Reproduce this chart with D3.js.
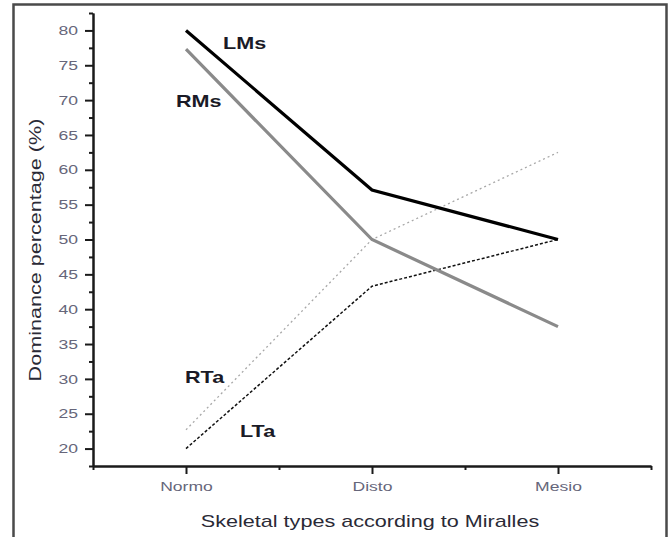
<!DOCTYPE html>
<html>
<head>
<meta charset="utf-8">
<script src="https://cdn.jsdelivr.net/npm/d3@7"></script>
<style>
    body { margin: 0; background: #fff; }
    svg { display: block; font-family: "Liberation Sans", Arial, sans-serif; }
</style>
</head>
<body>
<svg id="chart" width="671" height="537"></svg>
<script>
/*global d3*/
var categories = ["Normo", "Disto", "Mesio"],
    lmsValues = [80, 57.1, 50],   //black thick
    rmsValues = [77.3, 50, 37.5], //grey thick
    rtaValues = [22.7, 50, 62.5], //light grey dotted
    ltaValues = [20, 43.3, 50],   //black dashed
    yTicks = [20, 25, 30, 35, 40, 45, 50, 55, 60, 65, 70, 75, 80],
    yMinorTicks = [17.5, 22.5, 27.5, 32.5, 37.5, 42.5, 47.5, 52.5, 57.5, 62.5, 67.5, 72.5, 77.5, 82.5],
    xMinorTicks = [0.5, 1.5, 2.5, 3.5],
    yTitle = "Dominance percentage (%)",
    xTitle = "Skeletal types according to Miralles";

var svg = d3.select("#chart"),
    stretchK = 1.35; //the text in the source is drawn wide

var x = d3.scaleLinear().domain([0.5, 3.5]).range([93, 651]),
    y = d3.scaleLinear().domain([17.5, 82.5]).range([466, 13]);

//outer frame
svg.append("rect")
    .attr("x", 13.5).attr("y", 4.5)
    .attr("width", 653).attr("height", 600)
    .attr("fill", "none")
    .attr("stroke", "#4a4a4a")
    .attr("stroke-width", 2.5);

//widen text glyphs like the original
function stretch(sel) {
    sel.each(function () {
        var t = d3.select(this),
            tx = +t.attr("x") || 0;
        t.attr("x", tx / stretchK).attr("transform", "scale(" + stretchK + ",1)");
    });
}

function styleAxis(g) {
    g.select(".domain").attr("stroke", "#1a1a1a").attr("stroke-width", 2);
    g.selectAll(".tick line").attr("stroke", "#1a1a1a").attr("stroke-width", 2);
}

//y axis
var yMinor = svg.append("g")
    .attr("transform", "translate(" + x(0.5) + ",0)")
    .call(d3.axisLeft(y).tickValues(yMinorTicks).tickSize(4).tickSizeOuter(0).tickFormat(""));
styleAxis(yMinor);
var yAxis = svg.append("g")
    .attr("transform", "translate(" + x(0.5) + ",0)")
    .call(d3.axisLeft(y).tickValues(yTicks).tickSize(8).tickSizeOuter(0).tickPadding(7));
styleAxis(yAxis);
yAxis.selectAll(".tick text")
    .attr("font-size", 13)
    .attr("font-family", "Liberation Sans, Arial, sans-serif")
    .attr("fill", "#66667a")
    .call(stretch);

//x axis
var xMinor = svg.append("g")
    .attr("transform", "translate(0," + y(17.5) + ")")
    .call(d3.axisBottom(x).tickValues(xMinorTicks).tickSize(4).tickSizeOuter(0).tickFormat(""));
styleAxis(xMinor);
var xAxis = svg.append("g")
    .attr("transform", "translate(0," + y(17.5) + ")")
    .call(d3.axisBottom(x).tickValues([1, 2, 3]).tickSize(8).tickSizeOuter(0).tickPadding(8)
        .tickFormat(function (d) { return categories[d - 1]; }));
styleAxis(xAxis);
xAxis.selectAll(".tick text")
    .attr("font-size", 13)
    .attr("font-family", "Liberation Sans, Arial, sans-serif")
    .attr("fill", "#66667a")
    .call(stretch);

//axis titles
svg.append("text")
    .attr("transform", "translate(41,250) rotate(-90) scale(" + stretchK + ",1)")
    .attr("text-anchor", "middle")
    .attr("font-size", 16)
    .attr("fill", "#2a2a36")
    .text(yTitle);
svg.append("text")
    .attr("transform", "translate(370,527) scale(" + stretchK + ",1)")
    .attr("text-anchor", "middle")
    .attr("font-size", 16)
    .attr("fill", "#2a2a36")
    .text(xTitle);

//series lines
var series = [
    {name: "LMs", values: lmsValues, color: "#000", width: 3.2, dash: null, lx: 223, ly: 49},
    {name: "RMs", values: rmsValues, color: "#8a8a8a", width: 3.2, dash: null, lx: 176, ly: 107},
    {name: "RTa", values: rtaValues, color: "#a8a8a8", width: 1.3, dash: "2,3", lx: 185, ly: 383},
    {name: "LTa", values: ltaValues, color: "#111", width: 1.5, dash: "3,2", lx: 240, ly: 437}
];
var line = d3.line()
    .x(function (d, i) { return x(i + 1); })
    .y(function (d) { return y(d); });

//thin ones first, thick lines on top
[2, 3, 1, 0].forEach(function (k) {
    var s = series[k];
    svg.append("path")
        .datum(s.values)
        .attr("d", line)
        .attr("fill", "none")
        .attr("stroke", s.color)
        .attr("stroke-width", s.width)
        .attr("stroke-linejoin", "miter")
        .attr("stroke-dasharray", s.dash);
});

//series labels
series.forEach(function (s) {
    svg.append("text")
        .attr("transform", "translate(" + s.lx + "," + s.ly + ") scale(" + stretchK + ",1)")
        .attr("font-size", 16)
        .attr("font-weight", "bold")
        .attr("fill", "#1a1a26")
        .text(s.name);
});
</script>
</body>
</html>
